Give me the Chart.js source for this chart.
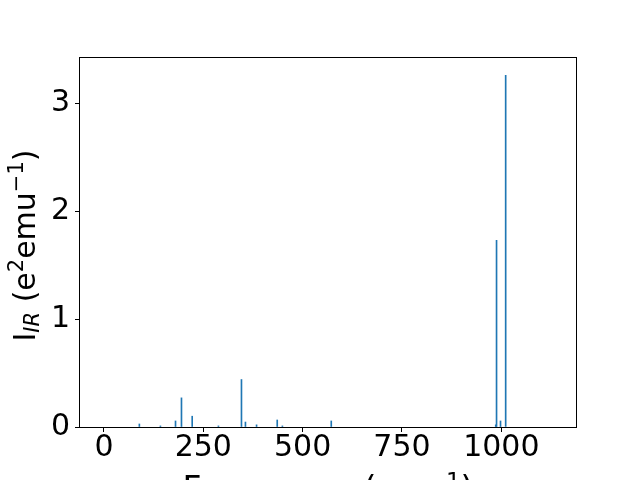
<!DOCTYPE html>
<html>
<head>
<meta charset="utf-8">
<script src="https://cdn.jsdelivr.net/npm/chart.js@4.4.0/dist/chart.umd.min.js"></script>
<style>
  html, body { margin: 0; padding: 0; background: #fff; }
  #wrap { width: 640px; height: 480px; }
</style>
</head>
<body>
<div id="wrap"><canvas id="irChart" width="640" height="480"></canvas></div>
<script>
// IR spectrum: frequency (cm^-1) and intensity (e^2 emu^-1)
const frequencies = [89, 142, 180, 195, 222, 288, 346, 356, 384, 436, 449, 572, 986, 988, 998, 1011];
const intensities = [0.028, 0.01, 0.056, 0.27, 0.10, 0.01, 0.44, 0.046, 0.02, 0.065, 0.01, 0.056, 0.02, 1.73, 0.056, 3.26];

const xTicks = [0, 250, 500, 750, 1000];
const yTicks = [0, 1, 2, 3];

const FONT = 'DejaVu Sans';

// axis labels with sub/superscripts, drawn piece by piece
function drawPieces(ctx, pieces, baseSize) {
    let total = 0;
    pieces.forEach(p => {
        ctx.font = (p.italic ? 'italic ' : '') + Math.round(baseSize * (p.scale || 1)) + 'px "' + FONT + '"';
        p.w = ctx.measureText(p.text).width;
        total += p.w;
    });
    let x = -total / 2;
    pieces.forEach(p => {
        ctx.font = (p.italic ? 'italic ' : '') + Math.round(baseSize * (p.scale || 1)) + 'px "' + FONT + '"';
        ctx.fillText(p.text, x, p.shift || 0);
        x += p.w;
    });
}

const frameAndLabels = {
    id: 'frameAndLabels',
    afterDraw(chart) {
        const ctx = chart.ctx;
        const a = chart.chartArea;
        ctx.save();
        ctx.strokeStyle = '#000';
        ctx.lineWidth = 1;
        ctx.strokeRect(Math.round(a.left) - 0.5, Math.round(a.top) - 0.5,
            Math.round(a.right - a.left) + 1, Math.round(a.bottom - a.top) + 1);

        ctx.fillStyle = '#000';
        ctx.textBaseline = 'alphabetic';
        ctx.textAlign = 'left';

        // y label: I_IR (e^2 emu^-1)
        ctx.save();
        ctx.translate(35, (a.top + a.bottom) / 2 + 3);
        ctx.rotate(-Math.PI / 2);
        drawPieces(ctx, [
            { text: 'I' },
            { text: 'IR', scale: 0.7, italic: true, shift: 4 },
            { text: ' (e' },
            { text: '2', scale: 0.7, shift: -12 },
            { text: 'emu' },
            { text: '\u22121', scale: 0.7, shift: -12 },
            { text: ')' }
        ], 30);
        ctx.restore();

        // x label: Frequency (cm^-1), mostly below the canvas
        ctx.save();
        ctx.translate((a.left + a.right) / 2, 500);
        drawPieces(ctx, [
            { text: 'Frequency (cm' },
            { text: '\u22121', scale: 0.7, shift: -11.5 },
            { text: ')' }
        ], 33);
        ctx.restore();

        ctx.restore();
    }
};

new Chart(document.getElementById('irChart'), {
    type: 'bar',
    data: {
        datasets: [{
            data: frequencies.map((f, i) => ({ x: f, y: intensities[i] })),
            backgroundColor: '#1f77b4',
            borderWidth: 0,
            barThickness: 1
        }]
    },
    options: {
        responsive: false,
        animation: false,
        devicePixelRatio: 1,
        layout: { padding: { top: 58, right: 64, left: 0, bottom: 0 } },
        plugins: {
            legend: { display: false },
            tooltip: { enabled: false }
        },
        scales: {
            x: {
                type: 'linear',
                offset: false,
                min: -60.4,
                max: 1188,
                afterBuildTicks: scale => { scale.ticks = xTicks.map(v => ({ value: v })); },
                afterFit: scale => { scale.height = 53; },
                grid: { offset: false, drawOnChartArea: false, drawTicks: true, tickLength: 5, color: '#000' },
                border: { display: false },
                ticks: {
                    color: '#000',
                    padding: -2,
                    maxRotation: 0,
                    callback: v => String(v),
                    font: { family: FONT, size: 30 }
                }
            },
            y: {
                min: 0,
                max: 3.42,
                afterBuildTicks: scale => { scale.ticks = yTicks.map(v => ({ value: v })); },
                afterFit: scale => { scale.width = 80; },
                grid: { drawOnChartArea: false, drawTicks: true, tickLength: 5, color: '#000' },
                border: { display: false },
                ticks: {
                    color: '#000',
                    padding: 5,
                    callback: v => String(v),
                    font: { family: FONT, size: 30 }
                }
            }
        }
    },
    plugins: [frameAndLabels]
});
</script>
</body>
</html>
